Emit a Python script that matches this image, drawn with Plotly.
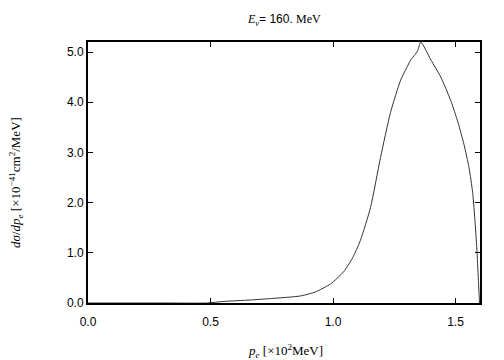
import plotly.graph_objects as go

# momentum of electron [x10^2 MeV]
p_e = [0.0, 0.30, 0.487, 0.55, 0.663, 0.75, 0.867, 0.928, 0.99, 1.043, 1.08, 1.112,
       1.153, 1.194, 1.235, 1.276, 1.30, 1.317, 1.335, 1.346, 1.358,
       1.40, 1.44, 1.48, 1.51, 1.535, 1.555, 1.57, 1.58, 1.588, 1.594, 1.598]
# cross section dsigma/dp_e [x10^-41 cm^2/MeV]
dsig = [0.0, 0.0, 0.0, 0.03, 0.06, 0.09, 0.14, 0.22, 0.38, 0.62, 0.9, 1.25,
        1.9, 2.9, 3.8, 4.44, 4.68, 4.84, 4.95, 5.03, 5.2,
        4.84, 4.5, 4.04, 3.6, 3.15, 2.7, 2.2, 1.6, 1.0, 0.4, 0.0]

x_ticks = [0.0, 0.5, 1.0, 1.5]
x_tick_labels = ["0.0", "0.5", "1.0", "1.5"]
y_ticks = [0.0, 1.0, 2.0, 3.0, 4.0, 5.0]
y_tick_labels = ["0.0", "1.0", "2.0", "3.0", "4.0", "5.0"]

SERIF = "Liberation Serif, Times New Roman, serif"
SANS = "Liberation Sans, Arial, sans-serif"

fig = go.Figure()
fig.add_trace(go.Scatter(x=p_e, y=dsig, mode="lines",
                         line=dict(color="#333333", width=1, shape="spline", smoothing=0.6),
                         showlegend=False))

fig.update_layout(
    width=496, height=352,
    margin=dict(l=80, r=24, t=34, b=57),
    paper_bgcolor="white", plot_bgcolor="white",
    font=dict(family=SANS, size=12, color="black"),
    xaxis=dict(
        range=[0, 1.6], tickvals=x_ticks, ticktext=x_tick_labels,
        ticks="inside", ticklen=5, tickwidth=1, tickcolor="black",
        showline=True, linecolor="black", linewidth=2, mirror="ticks",
        showgrid=False, zeroline=False, ticklabelstandoff=7,
        tickfont=dict(family=SANS, size=12),
    ),
    yaxis=dict(
        range=[0, 5.2], tickvals=y_ticks, ticktext=y_tick_labels,
        ticks="inside", ticklen=5, tickwidth=1, tickcolor="black",
        showline=True, linecolor="black", linewidth=2, mirror="ticks",
        showgrid=False, zeroline=False,
        tickfont=dict(family=SANS, size=12),
    ),
    annotations=[
        dict(text=f"<span style='font-family:{SERIF}'><i>E</i><sub><i>ν</i></sub></span>= 160. "
                  f"<span style='font-family:{SERIF}'>MeV</span>",
             xref="paper", yref="paper", x=0.5, y=(303 - 20) / 261,
             xanchor="center", yanchor="middle", showarrow=False,
             font=dict(family=SANS, size=12)),
        dict(text="<i>p</i><sub><i>e</i></sub> [×10<sup>2</sup>MeV]",
             xref="paper", yref="paper", x=(285 - 88) / 392, y=(303 - 351) / 261,
             xanchor="center", yanchor="middle", showarrow=False,
             font=dict(family=SERIF, size=13)),
        dict(text="<i>dσ</i>/<i>dp</i><sub><i>e</i></sub> [×10<sup>−41</sup>cm<sup>2</sup>/MeV]",
             xref="paper", yref="paper", x=(16 - 88) / 392, y=(303 - 183) / 261,
             xanchor="center", yanchor="middle", showarrow=False, textangle=-90,
             font=dict(family=SERIF, size=13)),
    ],
)

fig.write_html("out.html")
